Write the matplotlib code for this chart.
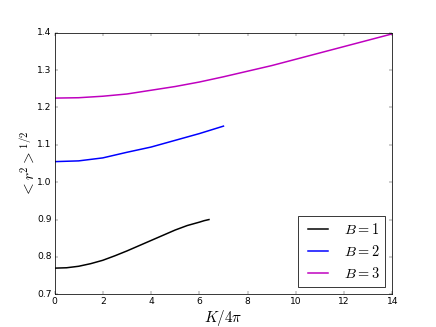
import numpy as np
import matplotlib
matplotlib.use('Agg')
import matplotlib.pyplot as plt

plt.style.use('classic')

# B = 1
k1 = [0, 0.5, 1, 1.5, 2, 2.5, 3, 3.5, 4, 4.5, 5, 5.5, 6, 6.2, 6.4]
r1 = [0.770, 0.771, 0.775, 0.782, 0.791, 0.803, 0.816, 0.830, 0.844,
      0.858, 0.872, 0.884, 0.893, 0.897, 0.900]
# B = 2
k2 = [0, 1, 2, 3, 4, 5, 6, 7]
r2 = [1.055, 1.057, 1.065, 1.080, 1.094, 1.112, 1.130, 1.150]
# B = 3
k3 = [0, 1, 2, 3, 4, 5, 6, 7, 8, 9, 10, 11, 12, 13, 14]
r3 = [1.225, 1.226, 1.230, 1.236, 1.246, 1.256, 1.268, 1.282, 1.297,
      1.312, 1.329, 1.346, 1.363, 1.380, 1.397]

fig = plt.figure(figsize=(8, 6), dpi=54.5)
ax = fig.add_subplot(111)
ax.plot(k1, r1, 'k-', lw=2, label=r'$B=1$')
ax.plot(k2, r2, 'b-', lw=2, label=r'$B=2$')
ax.plot(k3, r3, 'm-', lw=2, label=r'$B=3$')

ax.set_xlim(0, 14)
ax.set_ylim(0.7, 1.4)
ax.set_xlabel(r'$K/4\pi$', fontsize=20, labelpad=2)
ax.set_ylabel(r'$<r^2>^{1/2}$', fontsize=20, labelpad=0)
ax.legend(loc='lower right', fontsize=19)

fig.savefig('out.png', dpi=54.5)
